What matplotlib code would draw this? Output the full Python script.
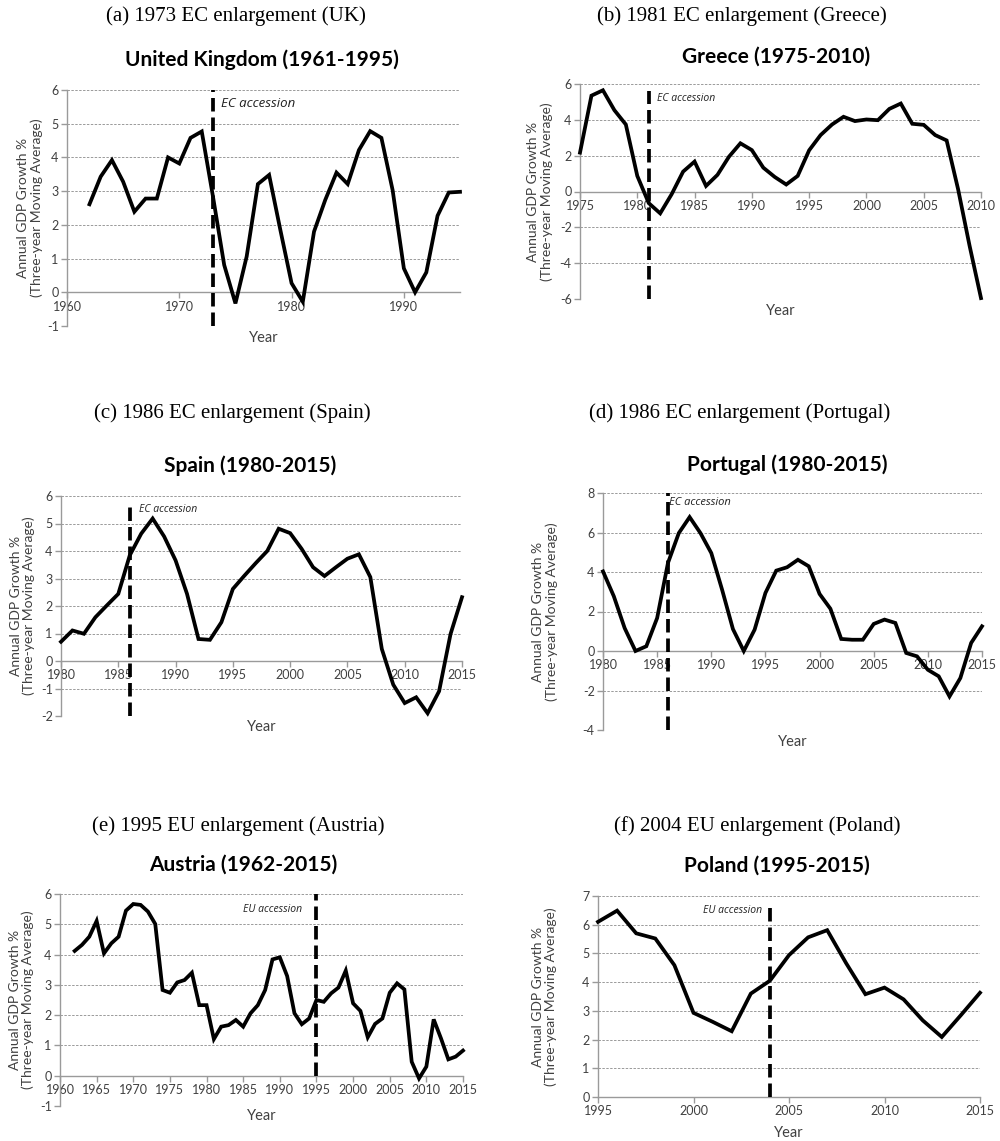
import matplotlib
matplotlib.use("Agg")
import matplotlib.pyplot as plt

# ---- data (three-year moving average of annual GDP growth, %) ----
uk_years = list(range(1962, 1996))
uk_growth = [2.61, 3.43, 3.92, 3.28, 2.39, 2.78, 2.78, 4.0, 3.82, 4.58,
             4.77, 2.84, 0.81, -0.33, 1.06, 3.21, 3.48, 1.85, 0.27, -0.28,
             1.8, 2.74, 3.55, 3.21, 4.22, 4.78, 4.58, 3.03, 0.71, 0.0,
             0.59, 2.27, 2.96, 2.98]

gr_years = list(range(1975, 2011))
gr_growth = [2.17, 5.35, 5.65, 4.54, 3.74, 0.87, -0.65, -1.22, -0.15, 1.11,
             1.67, 0.31, 0.93, 1.94, 2.69, 2.31, 1.33, 0.81, 0.39, 0.87,
             2.3, 3.15, 3.74, 4.17, 3.93, 4.02, 3.98, 4.61, 4.91, 3.78,
             3.72, 3.15, 2.85, 0.13, -3.02, -5.95]

es_years = list(range(1980, 2016))
es_growth = [0.70, 1.11, 0.99, 1.59, 2.02, 2.44, 3.84, 4.63, 5.18, 4.53,
             3.66, 2.44, 0.80, 0.77, 1.41, 2.62, 3.1, 3.56, 4.0, 4.81,
             4.65, 4.08, 3.41, 3.09, 3.41, 3.72, 3.88, 3.05, 0.44, -0.86,
             -1.53, -1.32, -1.9, -1.1, 0.98, 2.32]

pt_years = list(range(1980, 2016))
pt_growth = [4.03, 2.77, 1.16, 0.0, 0.24, 1.67, 4.46, 5.97, 6.78, 5.97,
             4.96, 3.1, 1.11, 0.0, 1.08, 2.94, 4.07, 4.24, 4.62, 4.29,
             2.89, 2.14, 0.61, 0.57, 0.57, 1.37, 1.59, 1.42, -0.1, -0.27,
             -0.95, -1.28, -2.3, -1.37, 0.41, 1.25]

at_years = list(range(1962, 2016))
at_growth = [4.12, 4.32, 4.59, 5.11, 4.04, 4.37, 4.59, 5.45, 5.67, 5.64,
             5.42, 5.01, 2.83, 2.74, 3.08, 3.16, 3.4, 2.33, 2.33, 1.21,
             1.62, 1.67, 1.84, 1.62, 2.06, 2.33, 2.83, 3.84, 3.91, 3.29,
             2.06, 1.70, 1.89, 2.5, 2.44, 2.72, 2.91, 3.47, 2.39, 2.14,
             1.27, 1.71, 1.89, 2.74, 3.05, 2.85, 0.46, -0.09, 0.3, 1.86,
             1.23, 0.54, 0.63, 0.83]

pl_years = list(range(1995, 2016))
pl_growth = [6.1, 6.49, 5.70, 5.52, 4.59, 2.93, 2.62, 2.29, 3.6, 4.05,
             4.94, 5.56, 5.81, 4.65, 3.58, 3.81, 3.4, 2.67, 2.09, 2.85,
             3.63]

W, H = 1000, 1141
fig = plt.figure(figsize=(W / 100, H / 100), dpi=100)

SERIF = "Liberation Serif"
SANS = "Lato"
TXT = "#404040"


def px_axes(l, t, r, b):
    return fig.add_axes([l / W, 1 - b / H, (r - l) / W, (b - t) / H])


def panel(box, caption, cap_xy, title, title_xy, years, vals, xlim, xstep,
          ylim, ystep, acc_year, acc_span, acc_text, acc_xy, acc_ha, acc_fs,
          year_y, ylab_pad):
    ax = px_axes(*box)
    ax.plot(years, vals, color="black", lw=2.7, solid_joinstyle="miter",
            clip_on=False, zorder=3)
    ax.plot([acc_year, acc_year], acc_span, color="black", lw=2.7,
            dashes=(3.6, 1.6), clip_on=False, zorder=4)
    ax.text(acc_xy[0], acc_xy[1], acc_text, fontsize=acc_fs, style="italic",
            family="Open Sans", color="#202020", ha=acc_ha, va="center")
    ax.set_xlim(*xlim)
    ax.set_ylim(*ylim)
    ax.set_xticks(range(xlim[0], xlim[1] + 1, xstep))
    yt = list(range(ylim[0], ylim[1] + 1, ystep))
    ax.set_yticks(yt)
    ax.set_yticklabels([str(v) for v in yt])
    for y in yt:
        if y != 0:
            ax.axhline(y, color="#9a9a9a", lw=0.7, ls=(0, (2.5, 1.5)), zorder=1)
    for s in ("top", "right"):
        ax.spines[s].set_visible(False)
    ax.spines["bottom"].set_position(("data", 0))
    ax.spines["bottom"].set_color("#9a9a9a")
    ax.spines["left"].set_color("#9a9a9a")
    ax.spines["bottom"].set_linewidth(1.0)
    ax.spines["left"].set_linewidth(1.0)
    ax.tick_params(axis="both", colors="#9a9a9a", labelcolor=TXT,
                   labelsize=9, length=4, width=1)
    ax.tick_params(axis="x", direction="out", pad=2)
    ax.tick_params(axis="y", pad=2)
    for lab in ax.get_xticklabels() + ax.get_yticklabels():
        lab.set_family(SANS)
    ax.set_ylabel("Annual GDP Growth %\n(Three-year Moving Average)",
                  fontsize=10, family=SANS, color=TXT, labelpad=ylab_pad,
                  linespacing=1.1)
    l, t, r, b = box
    fig.text((l + r) / 2 / W, 1 - year_y / H, "Year", fontsize=10.5,
             family=SANS, color=TXT, ha="center", va="center")
    fig.text(title_xy[0] / W, 1 - title_xy[1] / H, title, fontsize=15,
             family=SANS, weight="bold", ha="center", va="center")
    fig.text(cap_xy[0] / W, 1 - cap_xy[1] / H, caption, fontsize=15,
             family=SERIF, ha="center", va="center")
    return ax


panel((67, 90, 460, 326), "(a) 1973 EC enlargement (UK)", (236, 16),
      "United Kingdom (1961-1995)", (262, 60), uk_years, uk_growth,
      (1960, 1995), 10, (-1, 6), 1, 1973, (-1, 6), "EC accession",
      (1973.7, 5.6), "left", 9.5, 338, 3)

panel((580, 84, 981, 299), "(b) 1981 EC enlargement (Greece)", (742, 16),
      "Greece (1975-2010)", (776, 57), gr_years, gr_growth,
      (1975, 2010), 5, (-6, 6), 2, 1981, (-6, 5.6), "EC accession",
      (1981.7, 5.2), "left", 7.5, 311, 5)

panel((61, 496, 462, 716), "(c) 1986 EC enlargement (Spain)", (232, 413),
      "Spain (1980-2015)", (250, 466), es_years, es_growth,
      (1980, 2015), 5, (-2, 6), 1, 1986, (-2, 5.7), "EC accession",
      (1986.8, 5.5), "left", 7.5, 727, 4)

panel((603, 493, 982, 730), "(d) 1986 EC enlargement (Portugal)", (740, 413),
      "Portugal (1980-2015)", (787, 465), pt_years, pt_growth,
      (1980, 2015), 5, (-4, 8), 2, 1986, (-4, 8), "EC accession",
      (1986.05, 7.5), "left", 8, 742, 18)

panel((60, 894, 463, 1106), "(e) 1995 EU enlargement (Austria)", (238, 826),
      "Austria (1962-2015)", (243, 865), at_years, at_growth,
      (1960, 2015), 5, (-1, 6), 1, 1995, (0, 6), "EU accession",
      (1993.1, 5.5), "right", 7.5, 1116, 4)

panel((598, 896, 980, 1097), "(f) 2004 EU enlargement (Poland)", (757, 826),
      "Poland (1995-2015)", (777, 866), pl_years, pl_growth,
      (1995, 2015), 5, (0, 7), 1, 2004, (0, 6.65), "EU accession",
      (2003.6, 6.5), "right", 7.5, 1133, 18)

fig.savefig("out.png", dpi=100)
